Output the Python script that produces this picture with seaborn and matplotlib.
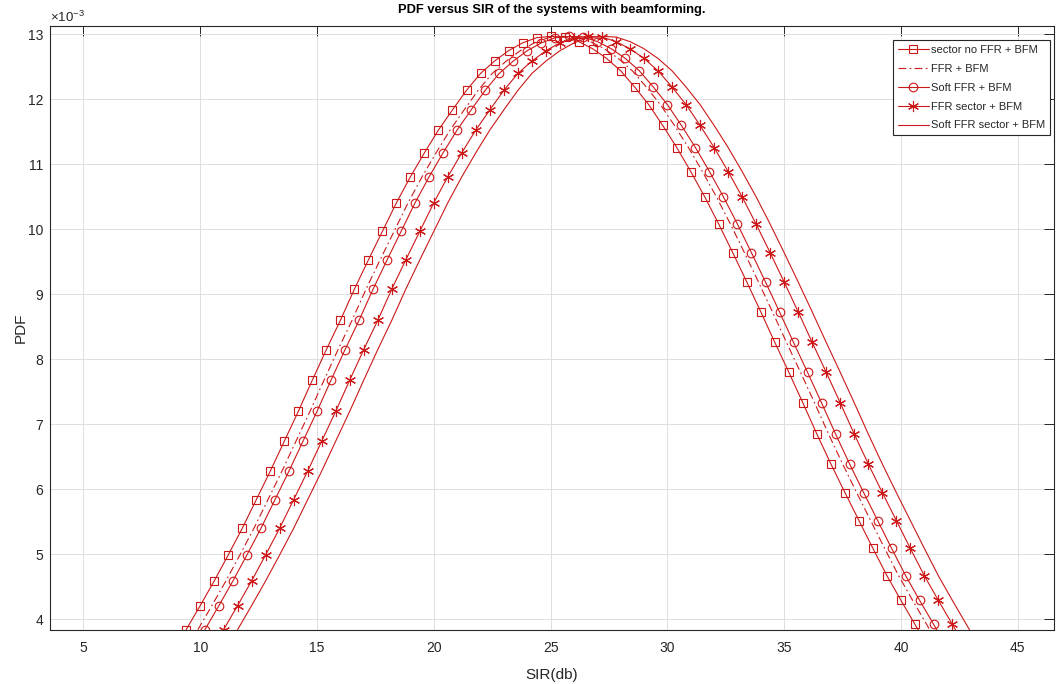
import matplotlib
matplotlib.use("Agg")
import matplotlib.pyplot as plt
import seaborn as sns

# ---------------- data ----------------
# PDF values (x 1e-3) at the plotted points; all curves share the same y samples
pdf_e3 = [3.84, 4.21, 4.59, 4.99, 5.40, 5.84, 6.28, 6.74, 7.20, 7.68,
          8.15, 8.60, 9.08, 9.53, 9.97, 10.41, 10.81, 11.18, 11.53, 11.84,
          12.14, 12.40, 12.59, 12.75, 12.87, 12.95, 12.97, 12.96, 12.89, 12.78,
          12.63, 12.44, 12.19, 11.92, 11.60, 11.26, 10.89, 10.50, 10.08, 9.64,
          9.19, 8.73, 8.26, 7.80, 7.33, 6.85, 6.39, 5.95, 5.52, 5.09,
          4.67, 4.29, 3.92, 3.55]

sir_sector_no_ffr = [9.4, 10.0, 10.6, 11.2, 11.8, 12.4, 13.0, 13.6, 14.2, 14.8,
                     15.4, 16.0, 16.6, 17.2, 17.8, 18.4, 19.0, 19.6, 20.2, 20.8,
                     21.4, 22.0, 22.6, 23.2, 23.8, 24.4, 25.0, 25.6, 26.2, 26.8,
                     27.4, 28.0, 28.6, 29.2, 29.8, 30.4, 31.0, 31.6, 32.2, 32.8,
                     33.4, 34.0, 34.6, 35.2, 35.8, 36.4, 37.0, 37.6, 38.2, 38.8,
                     39.4, 40.0, 40.6, 41.2]
sir_ffr = [9.9, 10.5, 11.1, 11.7, 12.3, 12.9, 13.5, 14.1, 14.7, 15.3,
           15.9, 16.5, 17.1, 17.7, 18.3, 18.9, 19.5, 20.1, 20.7, 21.3,
           21.9, 22.5, 23.1, 23.7, 24.3, 24.9, 25.5, 26.1, 26.7, 27.3,
           27.9, 28.5, 29.1, 29.7, 30.3, 30.9, 31.5, 32.1, 32.7, 33.3,
           33.9, 34.5, 35.1, 35.7, 36.3, 36.9, 37.5, 38.1, 38.7, 39.3,
           39.9, 40.5, 41.1, 41.7]
sir_soft_ffr = [10.2, 10.8, 11.4, 12.0, 12.6, 13.2, 13.8, 14.4, 15.0, 15.6,
                16.2, 16.8, 17.4, 18.0, 18.6, 19.2, 19.8, 20.4, 21.0, 21.6,
                22.2, 22.8, 23.4, 24.0, 24.6, 25.2, 25.8, 26.4, 27.0, 27.6,
                28.2, 28.8, 29.4, 30.0, 30.6, 31.2, 31.8, 32.4, 33.0, 33.6,
                34.2, 34.8, 35.4, 36.0, 36.6, 37.2, 37.8, 38.4, 39.0, 39.6,
                40.2, 40.8, 41.4, 42.0]
sir_ffr_sector = [11.0, 11.6, 12.2, 12.8, 13.4, 14.0, 14.6, 15.2, 15.8, 16.4,
                  17.0, 17.6, 18.2, 18.8, 19.4, 20.0, 20.6, 21.2, 21.8, 22.4,
                  23.0, 23.6, 24.2, 24.8, 25.4, 26.0, 26.6, 27.2, 27.8, 28.4,
                  29.0, 29.6, 30.2, 30.8, 31.4, 32.0, 32.6, 33.2, 33.8, 34.4,
                  35.0, 35.6, 36.2, 36.8, 37.4, 38.0, 38.6, 39.2, 39.8, 40.4,
                  41.0, 41.6, 42.2, 42.8]
sir_soft_ffr_sector = [11.6, 12.2, 12.8, 13.4, 14.0, 14.6, 15.2, 15.8, 16.4, 17.0,
                       17.6, 18.2, 18.8, 19.4, 20.0, 20.6, 21.2, 21.8, 22.4, 23.0,
                       23.6, 24.2, 24.8, 25.4, 26.0, 26.6, 27.2, 27.8, 28.4, 29.0,
                       29.6, 30.2, 30.8, 31.4, 32.0, 32.6, 33.2, 33.8, 34.4, 35.0,
                       35.6, 36.2, 36.8, 37.4, 38.0, 38.6, 39.2, 39.8, 40.4, 41.0,
                       41.6, 42.2, 42.8, 43.4]

labels = ["sector no FFR + BFM", "FFR + BFM", "Soft FFR + BFM",
          "FFR sector + BFM", "Soft FFR sector + BFM"]
series_x = [sir_sector_no_ffr, sir_ffr, sir_soft_ffr, sir_ffr_sector, sir_soft_ffr_sector]
for sx in series_x:
    assert len(sx) == len(pdf_e3)

x_ticks = [5, 10, 15, 20, 25, 30, 35, 40, 45]
y_ticks = [4, 5, 6, 7, 8, 9, 10, 11, 12, 13]

# ---------------- style ----------------
sns.set_theme(style="white")
plt.rcParams['font.family'] = ['Liberation Sans', 'DejaVu Sans']
plt.rcParams['mathtext.fontset'] = 'custom'
plt.rcParams['mathtext.rm'] = 'Liberation Sans'
plt.rcParams['mathtext.it'] = 'Liberation Sans:italic'

RED = '#cc1818'
TXT = '#262626'

styles = [
    dict(marker='s', markersize=5.2, linestyle='-'),
    dict(marker=None, linestyle=(0, (7, 3, 1.5, 3))),
    dict(marker='o', markersize=6.2, linestyle='-'),
    dict(marker=(6, 2, 0), markersize=8, linestyle='-'),
    dict(marker=None, linestyle='-'),
]

fig = plt.figure(figsize=(10.57, 6.84), dpi=100)
ax = fig.add_axes([50 / 1057, 54 / 684, 1004 / 1057, 604 / 684])

for sx, lab, st in zip(series_x, labels, styles):
    kw = dict(color=RED, linewidth=0.8, markerfacecolor='none',
              markeredgecolor=RED, markeredgewidth=0.8)
    kw.update(st)
    sns.lineplot(x=sx, y=pdf_e3, ax=ax, label=lab, errorbar=None,
                 estimator=None, sort=False, **kw)

ax.set_xlim(3.57, 46.55)
ax.set_ylim(3.835, 13.13)
ax.set_xticks(x_ticks)
ax.set_yticks(y_ticks)
ax.set_xticklabels([str(v) for v in x_ticks])
ax.set_yticklabels([str(v) for v in y_ticks])

ax.grid(True, color='#dedede', linewidth=0.7)
ax.set_axisbelow(True)
for sp in ax.spines.values():
    sp.set_color(TXT)
    sp.set_linewidth(0.8)
ax.tick_params(direction='in', length=7, width=0.7, top=True, right=True,
               labelsize=10, colors=TXT, pad=8)
ax.tick_params(axis='y', pad=5)

ax.set_xlabel("SIR(db)", fontsize=11, color=TXT, labelpad=9)
ax.set_ylabel("PDF", fontsize=11, color=TXT, labelpad=0)
ax.set_title("PDF versus SIR of the systems with beamforming.",
             fontsize=9.3, fontweight='bold', color='black', pad=9)

fig.text(50 / 1057, 1 - 17 / 684, r'$\times10^{-3}$', ha='left', va='center',
         fontsize=9.5, color=TXT)

leg = ax.legend(loc='upper right', bbox_to_anchor=(0.996, 0.977), fontsize=8,
                frameon=True, fancybox=False, framealpha=1, edgecolor='#262626',
                handlelength=2.8, handletextpad=0.2, labelspacing=0.8,
                borderpad=0.45, borderaxespad=0)
leg.get_frame().set_linewidth(0.8)

fig.savefig("out.png", dpi=100)
